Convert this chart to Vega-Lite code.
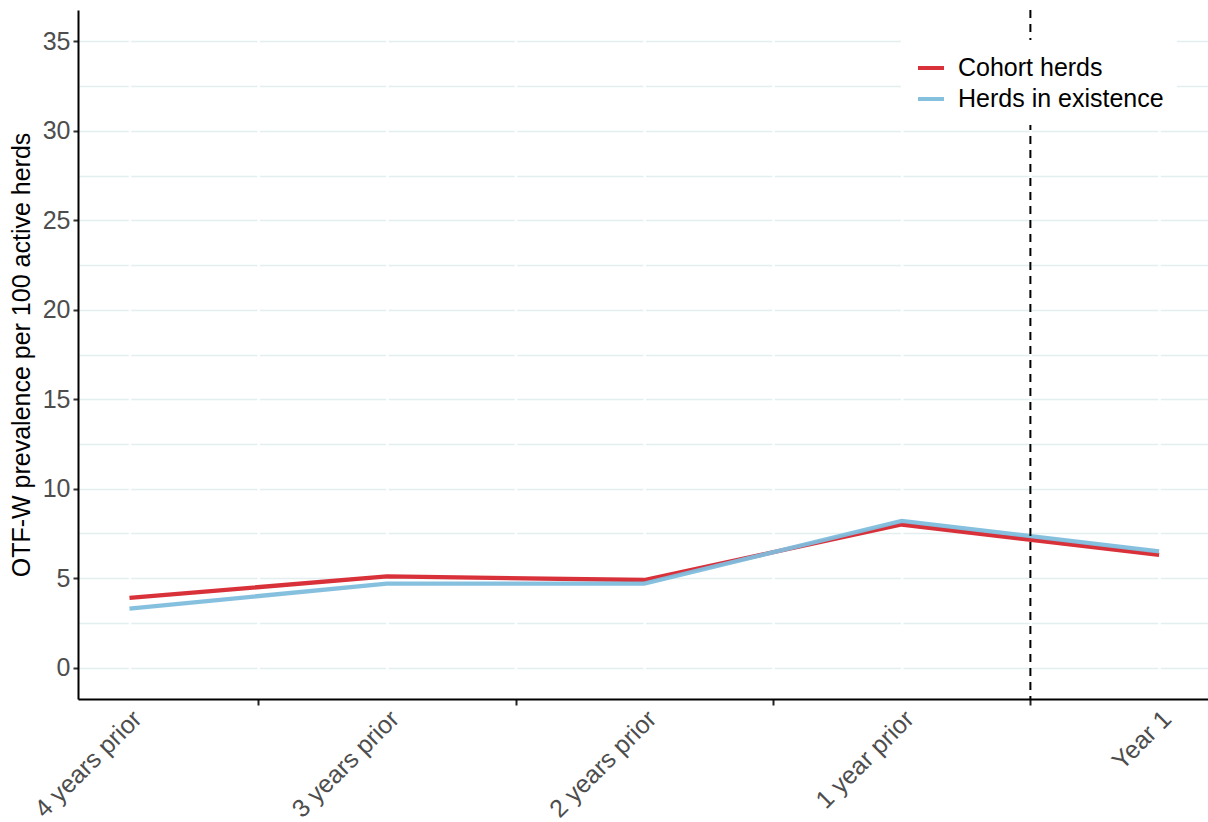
{
  "$schema": "https://vega.github.io/schema/vega-lite/v6.json",
  "autosize": {"type": "none"},
  "padding": {"left": 78, "top": 10, "right": 0, "bottom": 123},
  "width": 1130,
  "height": 689,
  "background": "white",
  "config": {
    "view": {"stroke": null},
    "font": "Liberation Sans"
  },
  "datasets": {
    "series": [
      {"idx": 1, "period": "4 years prior", "group": "Cohort herds", "value": 3.9},
      {"idx": 2, "period": "3 years prior", "group": "Cohort herds", "value": 5.1},
      {"idx": 3, "period": "2 years prior", "group": "Cohort herds", "value": 4.9},
      {"idx": 4, "period": "1 year prior", "group": "Cohort herds", "value": 8.0},
      {"idx": 5, "period": "Year 1", "group": "Cohort herds", "value": 6.3},
      {"idx": 1, "period": "4 years prior", "group": "Herds in existence", "value": 3.3},
      {"idx": 2, "period": "3 years prior", "group": "Herds in existence", "value": 4.7},
      {"idx": 3, "period": "2 years prior", "group": "Herds in existence", "value": 4.7},
      {"idx": 4, "period": "1 year prior", "group": "Herds in existence", "value": 8.2},
      {"idx": 5, "period": "Year 1", "group": "Herds in existence", "value": 6.5}
    ],
    "cutoff": [{"idx": 4.5}]
  },
  "encoding": {
    "x": {
      "field": "idx", "type": "quantitative",
      "scale": {"domain": [0.8, 5.19], "nice": false, "zero": false},
      "axis": {
        "title": null,
        "values": [1, 1.5, 2, 2.5, 3, 3.5, 4, 4.5, 5],
        "labelExpr": "datum.value == 1 ? '4 years prior' : datum.value == 2 ? '3 years prior' : datum.value == 3 ? '2 years prior' : datum.value == 4 ? '1 year prior' : datum.value == 5 ? 'Year 1' : ''",
        "labelAngle": 315,
        "labelFontSize": 25,
        "labelColor": "#4d4d4d",
        "labelPadding": 1,
        "labelOffset": -1,
        "labelOverlap": false,
        "domainColor": "black",
        "domainWidth": 2,
        "tickSize": 6,
        "tickWidth": 2,
        "tickColor": {"condition": {"test": "datum.value % 1 !== 0", "value": "#222222"}, "value": "transparent"},
        "grid": false
      }
    }
  },
  "layer": [
    {
      "data": {"name": "series"},
      "mark": {"type": "line", "strokeWidth": 4.3, "strokeCap": "butt", "opacity": 0.95},
      "encoding": {
        "y": {
          "field": "value", "type": "quantitative",
          "scale": {"domain": [-1.75, 36.75], "nice": false, "zero": false},
          "axis": {
            "title": "OTF-W prevalence per 100 active herds",
            "titleFontSize": 25,
            "titleFontWeight": "normal",
            "titleColor": "black",
            "titlePadding": 8,
            "values": [0, 2.5, 5, 7.5, 10, 12.5, 15, 17.5, 20, 22.5, 25, 27.5, 30, 32.5, 35],
            "labelExpr": "datum.value % 5 === 0 ? datum.label : ''",
            "labelFontSize": 25,
            "labelColor": "#4d4d4d",
            "labelPadding": 3,
            "domainColor": "black",
            "domainWidth": 2,
            "tickSize": 5,
            "tickWidth": 2,
            "tickColor": {"condition": {"test": "datum.value % 5 === 0", "value": "#333333"}, "value": "transparent"},
            "grid": true,
            "gridColor": "#e3eeee",
            "gridWidth": 1.5,
            "gridDash": [126.2, 2.5],
            "gridDashOffset": 75.97
          }
        },
        "color": {
          "field": "group", "type": "nominal",
          "scale": {"domain": ["Cohort herds", "Herds in existence"], "range": ["#d7262f", "#7fbddd"]},
          "legend": {
            "title": null,
            "orient": "none",
            "legendX": 825,
            "legendY": 30,
            "padding": 13,
            "fillColor": "white",
            "labelFontSize": 25,
            "labelColor": "black",
            "labelLimit": 400,
            "symbolType": "stroke",
            "symbolStrokeWidth": 4,
            "symbolSize": 676,
            "rowPadding": 3,
            "labelOffset": 12
          }
        },
        "order": {"field": "group", "sort": "descending"}
      }
    },
    {
      "data": {"name": "cutoff"},
      "mark": {"type": "rule", "color": "black", "strokeWidth": 2, "strokeDash": [8, 6]},
      "encoding": {}
    }
  ]
}
